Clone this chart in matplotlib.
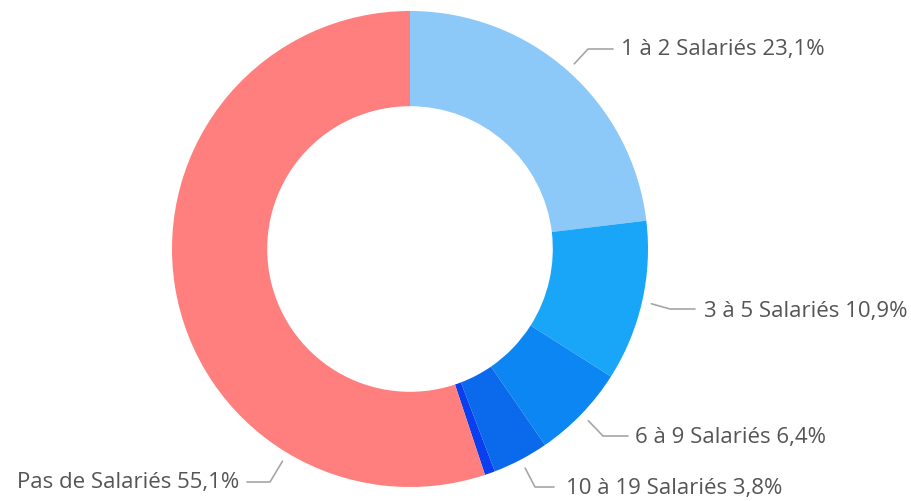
import matplotlib
matplotlib.use("Agg")
import matplotlib.pyplot as plt
import numpy as np

categories = ["1 à 2 Salariés", "3 à 5 Salariés", "6 à 9 Salariés",
              "10 à 19 Salariés", "20 Salariés et plus", "Pas de Salariés"]
values = [23.1, 10.9, 6.4, 3.8, 0.7, 55.1]
labels = ["1 à 2 Salariés 23,1%", "3 à 5 Salariés 10,9%", "6 à 9 Salariés 6,4%",
          "10 à 19 Salariés 3,8%", None, "Pas de Salariés 55,1%"]
colors = ["#8CC8F8", "#1AA6F8", "#0B86F2", "#0B6AEB", "#0A3FEF", "#FF7F7F"]

W, H = 912, 502
fig = plt.figure(figsize=(W / 100, H / 100), dpi=100)
ax = fig.add_axes([0, 0, 1, 1])

cx, cy, R = 410, H - 250, 238
wedges, _ = ax.pie(values, colors=colors, startangle=90, counterclock=False,
                   center=(cx, cy), radius=R, frame=True,
                   wedgeprops=dict(width=R * 0.4, linewidth=0))
ax.set_xlim(0, W)
ax.set_ylim(0, H)
ax.set_aspect("equal")
ax.axis("off")

# label layout in pixel coords (y from top)
layout = {
    0: dict(anchor=None, elbow=(588, 50), end=(613, 50), text=(621, 50), ha="left"),
    1: dict(anchor=None, elbow=(670, 310), end=(695, 310), text=(704, 311), ha="left"),
    2: dict(anchor=None, elbow=(603, 437), end=(628, 437), text=(635, 438), ha="left"),
    3: dict(anchor=None, elbow=(535, 488), end=(554, 488), text=(566, 489), ha="left"),
    5: dict(anchor=-121.0, elbow=(270, 483), end=(247, 483), text=(239, 483), ha="right"),
}

line_color = "#A6A6A6"
text_color = "#555555"
for i, w in enumerate(wedges):
    if labels[i] is None:
        continue
    L = layout[i]
    a = L["anchor"] if L["anchor"] is not None else (w.theta1 + w.theta2) / 2
    ang = np.deg2rad(a)
    sx = cx + R * 1.04 * np.cos(ang)
    sy = cy + R * 1.04 * np.sin(ang)
    ex, ey = L["elbow"][0], H - L["elbow"][1]
    fx, fy = L["end"][0], H - L["end"][1]
    ax.plot([sx, ex, fx], [sy, ey, fy], color=line_color, lw=1.2,
            solid_capstyle="round", solid_joinstyle="round")
    ax.text(L["text"][0], H - L["text"][1], labels[i], ha=L["ha"], va="center",
            fontsize=16, color=text_color, family=["Open Sans", "DejaVu Sans"])

fig.savefig("out.png", dpi=100)
